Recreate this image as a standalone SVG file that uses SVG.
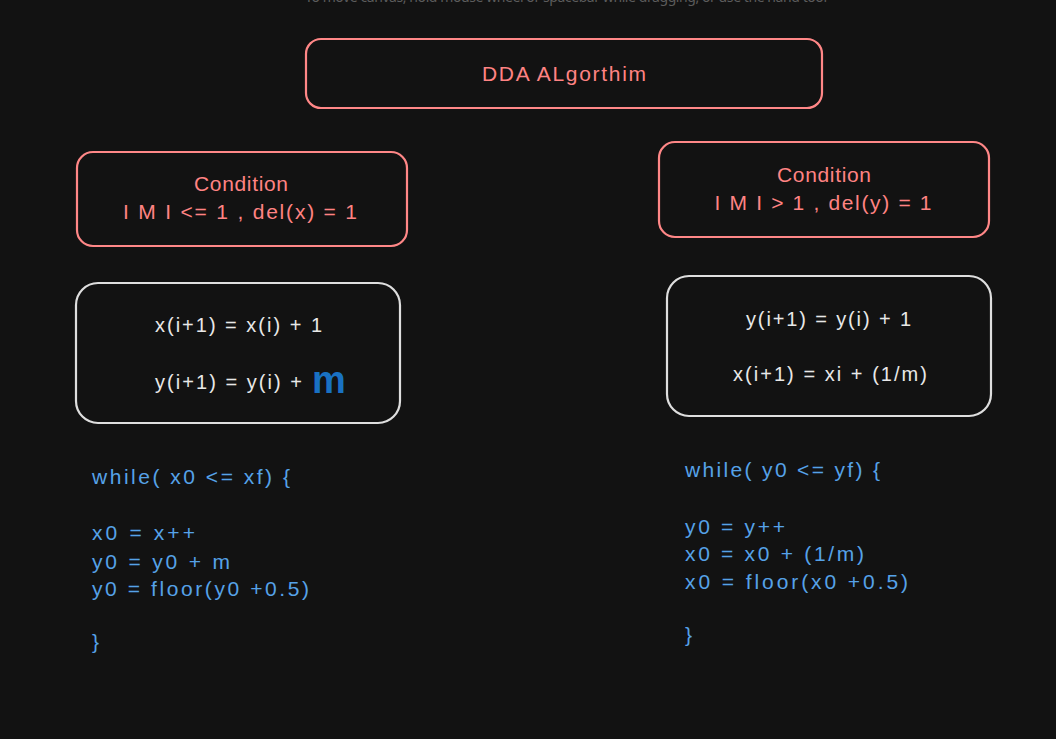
<svg xmlns="http://www.w3.org/2000/svg" width="1056" height="739" viewBox="0 0 1056 739">
<style>
.red{fill:none;stroke:#ff8787;stroke-width:2.2}
.wht{fill:none;stroke:#dedede;stroke-width:2.2}
.rt{fill:#ff8383;font-family:"Liberation Sans",Arial,sans-serif;font-size:21px;text-anchor:middle}
.wt{fill:#e8e8e8;font-family:"Liberation Sans",Arial,sans-serif;font-size:20px}
.bt{fill:#56a2e8;font-family:"Liberation Sans",Arial,sans-serif;font-size:21px}
.hint{fill:#5c5c5c;font-family:"Noto Sans",sans-serif;font-size:14px;text-anchor:middle}
</style>
<rect width="1056" height="739" fill="#121212"/>
<text class="hint" x="566" y="2" textLength="522">To move canvas, hold mouse wheel or spacebar while dragging, or use the hand tool</text>
<g id="title">
<rect class="red" x="306" y="39" width="516" height="69" rx="15"/>
<text class="rt" x="564" y="81" textLength="164">DDA ALgorthim</text>
</g>
<g id="cond-left">
<rect class="red" x="77" y="152" width="330" height="94" rx="16"/>
<text class="rt" x="241" y="191" textLength="94">Condition</text>
<text class="rt" x="240" y="219" textLength="234">I M I &lt;= 1 , del(x) = 1</text>
</g>
<g id="cond-right">
<rect class="red" x="659" y="142" width="330" height="95" rx="16"/>
<text class="rt" x="824" y="182" textLength="94">Condition</text>
<text class="rt" x="823" y="210" textLength="217">I M I &gt; 1 , del(y) = 1</text>
</g>
<g id="formula-left">
<rect class="wht" x="76" y="283" width="324" height="140" rx="22"/>
<text class="wt" x="155" y="332" textLength="167">x(i+1) = x(i) + 1</text>
<text class="wt" x="155" y="389" textLength="147">y(i+1) = y(i) +</text>
<text x="312" y="393" fill="#1971c2" font-family="'Liberation Sans',Arial,sans-serif" font-size="38" font-weight="bold" textLength="39">m</text>
</g>
<g id="formula-right">
<rect class="wht" x="667" y="276" width="324" height="140" rx="22"/>
<text class="wt" x="746" y="326" textLength="165">y(i+1) = y(i) + 1</text>
<text class="wt" x="733" y="381" textLength="194">x(i+1) = xi + (1/m)</text>
</g>
<g id="code-left">
<text class="bt" x="92" y="484" textLength="198">while( x0 &lt;= xf) {</text>
<text class="bt" x="92" y="540" textLength="103">x0 = x++</text>
<text class="bt" x="92" y="569" textLength="138">y0 = y0 + m</text>
<text class="bt" x="92" y="596" textLength="217">y0 = floor(y0 +0.5)</text>
<text class="bt" x="92" y="649">}</text>
</g>
<g id="code-right">
<text class="bt" x="685" y="477" textLength="195">while( y0 &lt;= yf) {</text>
<text class="bt" x="685" y="534" textLength="100">y0 = y++</text>
<text class="bt" x="685" y="561" textLength="179">x0 = x0 + (1/m)</text>
<text class="bt" x="685" y="589" textLength="223">x0 = floor(x0 +0.5)</text>
<text class="bt" x="685" y="642">}</text>
</g>
<g id="connectors"></g>
</svg>
